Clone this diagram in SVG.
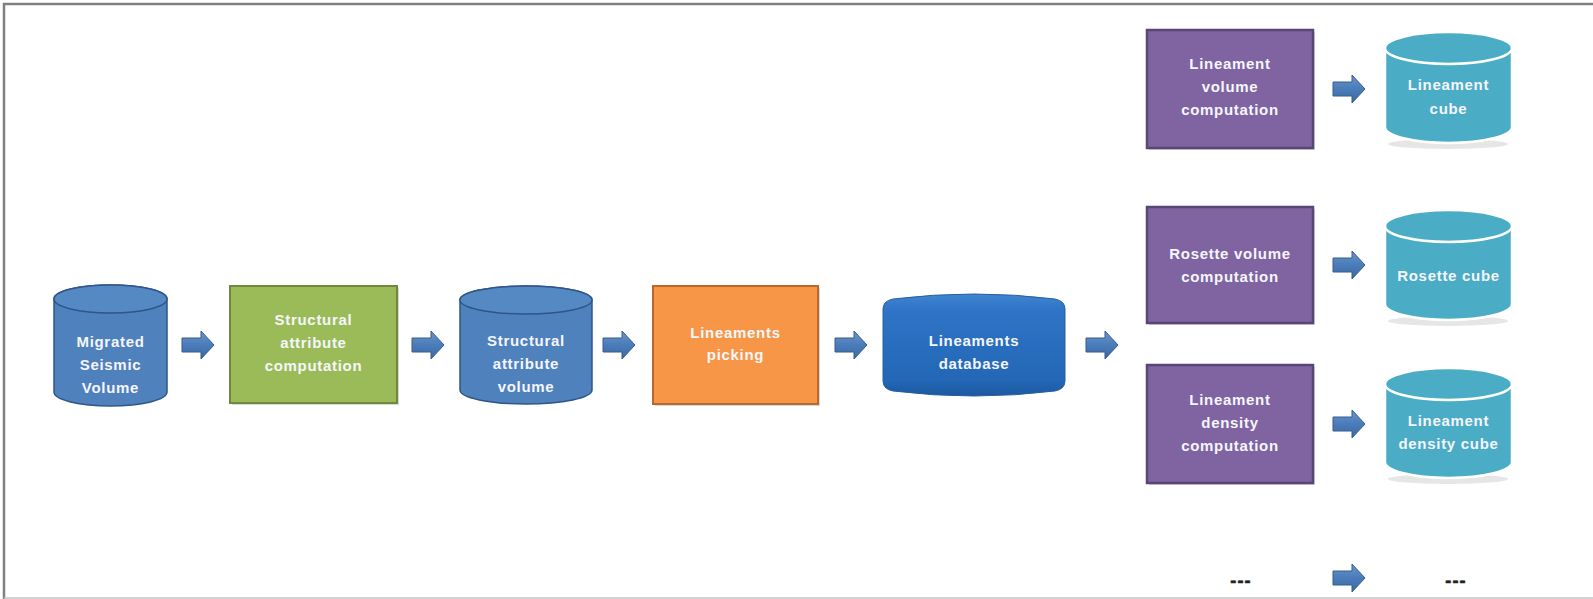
<svg xmlns="http://www.w3.org/2000/svg" width="1593" height="599" viewBox="0 0 1593 599">
<defs>
<style>
.t{font-family:"Liberation Sans",Arial,sans-serif;font-weight:bold;font-size:15px;fill:#f4f6fb;text-anchor:middle;letter-spacing:0.7px}
.dots{font-family:"Liberation Sans",Arial,sans-serif;font-weight:bold;font-size:18px;fill:#222;stroke:#222;stroke-width:0.6;letter-spacing:1.2px;text-anchor:middle}
.blue{fill:#4f81bd;stroke:#2f5688;stroke-width:1.5}
.bluetop{fill:#5589c4;stroke:#2f5688;stroke-width:1.5}
.green{fill:#9bbb59;stroke:#71893f;stroke-width:2}
.orange{fill:#f79646;stroke:#b8682a;stroke-width:2}
.purple{fill:#8064a2;stroke:#5a4478;stroke-width:2.5}
.cyan{fill:#4bacc6;stroke:#ffffff;stroke-width:2.5}
.shadow{fill:#d8d8d8}
.arrow{fill:url(#ag);stroke:#385d8a;stroke-width:1}
</style>
<linearGradient id="ag" x1="0" y1="0" x2="0" y2="1">
<stop offset="0" stop-color="#6a96cc"/>
<stop offset="0.5" stop-color="#4a7cb9"/>
<stop offset="1" stop-color="#3a6aa5"/>
</linearGradient>
<linearGradient id="dbg" x1="0" y1="0" x2="0" y2="1">
<stop offset="0" stop-color="#3f86d2"/>
<stop offset="0.15" stop-color="#2f74c6"/>
<stop offset="0.85" stop-color="#2367b6"/>
<stop offset="1" stop-color="#1c58a0"/>
</linearGradient>
<path id="arr" d="M0,-7 H19 V-14 L32,0 L19,14 V7 H0 Z"/>
</defs>
<rect width="1593" height="599" fill="#ffffff"/>
<g id="frame">
<line x1="3" y1="4" x2="1593" y2="4" stroke="#808080" stroke-width="2.5"/>
<line x1="4" y1="3" x2="4" y2="599" stroke="#808080" stroke-width="2.5"/>
<line x1="4" y1="598" x2="1593" y2="598" stroke="#c4c4c4" stroke-width="1.5"/>
</g>
<g id="connectors">
<use href="#arr" class="arrow" x="182" y="345"/>
<use href="#arr" class="arrow" x="412" y="345"/>
<use href="#arr" class="arrow" x="603" y="345"/>
<use href="#arr" class="arrow" x="835" y="345"/>
<use href="#arr" class="arrow" x="1086" y="345"/>
<use href="#arr" class="arrow" x="1333" y="89"/>
<use href="#arr" class="arrow" x="1333" y="265"/>
<use href="#arr" class="arrow" x="1333" y="424"/>
<use href="#arr" class="arrow" x="1333" y="578"/>
</g>
<g id="migrated">
<path class="blue" d="M54,299 A56.5,14 0 0 1 167,299 V392 A56.5,14 0 0 1 54,392 Z"/>
<ellipse class="bluetop" cx="110.5" cy="299" rx="56.5" ry="14"/>
<text class="t" x="110.5" y="347">Migrated</text>
<text class="t" x="110.5" y="370">Seismic</text>
<text class="t" x="110.5" y="393">Volume</text>
</g>
<g id="structural-computation">
<rect class="shadow" x="232" y="288" width="167" height="117"/>
<rect class="green" x="230" y="286" width="167" height="117"/>
<text class="t" x="313.5" y="325">Structural</text>
<text class="t" x="313.5" y="348">attribute</text>
<text class="t" x="313.5" y="371">computation</text>
</g>
<g id="structural-volume">
<path class="blue" d="M460,300 A66,14 0 0 1 592,300 V390 A66,14 0 0 1 460,390 Z"/>
<ellipse class="bluetop" cx="526" cy="300" rx="66" ry="14"/>
<text class="t" x="526" y="346">Structural</text>
<text class="t" x="526" y="369">attribute</text>
<text class="t" x="526" y="392">volume</text>
</g>
<g id="lineaments-picking">
<rect class="shadow" x="655" y="288" width="165" height="118"/>
<rect class="orange" x="653" y="286" width="165" height="118"/>
<text class="t" x="735.5" y="338">Lineaments</text>
<text class="t" x="735.5" y="360">picking</text>
</g>
<g id="lineaments-database">
<path fill="url(#dbg)" stroke="#2a5f9e" stroke-width="1" d="M883,309 Q883,301 893,299 Q974,289 1055,299 Q1065,301 1065,309 V381 Q1065,389 1055,391 Q974,401 893,391 Q883,389 883,381 Z"/>
<text class="t" x="974" y="346">Lineaments</text>
<text class="t" x="974" y="369">database</text>
</g>
<g id="lineament-volume-computation">
<rect class="shadow" x="1149" y="32" width="166" height="118"/>
<rect class="purple" x="1147" y="30" width="166" height="118"/>
<text class="t" x="1230" y="69">Lineament</text>
<text class="t" x="1230" y="92">volume</text>
<text class="t" x="1230" y="115">computation</text>
</g>
<g id="lineament-cube">
<ellipse cx="1448" cy="144" rx="60" ry="5" fill="#e6e6e6"/>
<path class="cyan" d="M1385,48 A63.5,16 0 0 1 1512,48 V127 A63.5,16 0 0 1 1385,127 Z"/>
<ellipse class="cyan" cx="1448.5" cy="48" rx="63.5" ry="16"/>
<text class="t" x="1448.5" y="90">Lineament</text>
<text class="t" x="1448.5" y="114">cube</text>
</g>
<g id="rosette-volume-computation">
<rect class="shadow" x="1149" y="209" width="166" height="116"/>
<rect class="purple" x="1147" y="207" width="166" height="116"/>
<text class="t" x="1230" y="259">Rosette volume</text>
<text class="t" x="1230" y="282">computation</text>
</g>
<g id="rosette-cube">
<ellipse cx="1448" cy="321" rx="60" ry="5" fill="#e6e6e6"/>
<path class="cyan" d="M1385,226 A63.5,16 0 0 1 1512,226 V304 A63.5,16 0 0 1 1385,304 Z"/>
<ellipse class="cyan" cx="1448.5" cy="226" rx="63.5" ry="16"/>
<text class="t" x="1448.5" y="281">Rosette cube</text>
</g>
<g id="lineament-density-computation">
<rect class="shadow" x="1149" y="367" width="166" height="118"/>
<rect class="purple" x="1147" y="365" width="166" height="118"/>
<text class="t" x="1230" y="405">Lineament</text>
<text class="t" x="1230" y="428">density</text>
<text class="t" x="1230" y="451">computation</text>
</g>
<g id="lineament-density-cube">
<ellipse cx="1448" cy="479" rx="60" ry="5" fill="#e6e6e6"/>
<path class="cyan" d="M1385,384 A63.5,16 0 0 1 1512,384 V462 A63.5,16 0 0 1 1385,462 Z"/>
<ellipse class="cyan" cx="1448.5" cy="384" rx="63.5" ry="16"/>
<text class="t" x="1448.5" y="426">Lineament</text>
<text class="t" x="1448.5" y="449">density cube</text>
</g>
<g id="more-left">
<text class="dots" x="1241" y="587">---</text>
</g>
<g id="more-right">
<text class="dots" x="1456" y="587">---</text>
</g>
</svg>
